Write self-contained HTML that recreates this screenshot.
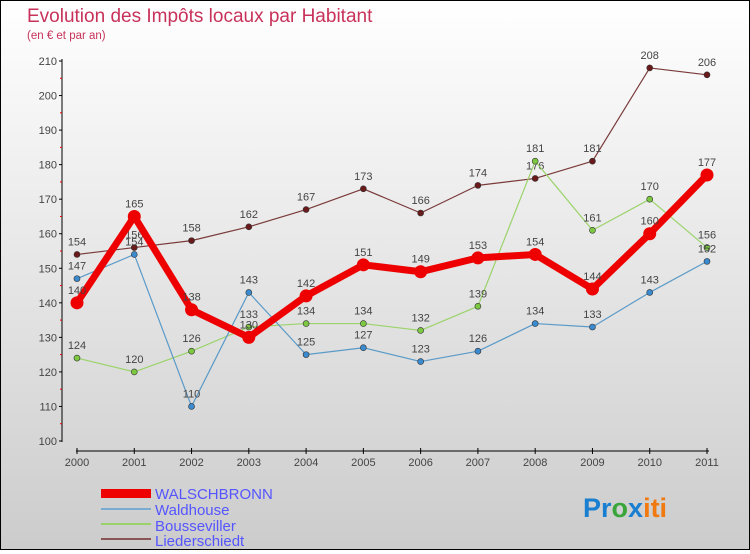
<!DOCTYPE html>
<html><head><meta charset="utf-8"><style>
body{margin:0;width:750px;height:550px;overflow:hidden;font-family:"Liberation Sans",sans-serif}
#c{position:absolute;left:0;top:0;width:748px;height:548px;border:1px solid #000;background:linear-gradient(#fff,#ccc)}
</style></head><body>
<div id="c">
<svg id="s" width="748" height="548" xmlns="http://www.w3.org/2000/svg" font-family="Liberation Sans, sans-serif">
<text x="26" y="21" font-size="19" fill="#c8325a">Evolution des Impôts locaux par Habitant</text>
<text x="26" y="38" font-size="11.5" fill="#c8325a">(en € et par an)</text>
<g id="axes"></g><g id="series"></g>
<g>
<rect x="100" y="488" width="50" height="9" fill="#e00"/>
<line x1="100" y1="508" x2="150" y2="508" stroke="#7aabd0" stroke-width="2"/>
<line x1="100" y1="523" x2="150" y2="523" stroke="#9bd36a" stroke-width="2"/>
<line x1="100" y1="538" x2="150" y2="538" stroke="#8a5555" stroke-width="2"/>
<text x="154" y="498" font-size="15" fill="#55f">WALSCHBRONN</text>
<text x="154" y="514" font-size="15" fill="#55f">Waldhouse</text>
<text x="154" y="530" font-size="15" fill="#55f">Bousseviller</text>
<text x="154" y="545" font-size="15" fill="#55f">Liederschiedt</text>
</g>
<text x="582" y="516" font-size="27" font-weight="bold"><tspan fill="#1a7fd0">Pr</tspan><tspan fill="#3aa53a">o</tspan><tspan fill="#1a7fd0">x</tspan><tspan fill="#f07a10">iti</tspan></text>
</svg></div>
<script>
const years=["2000","2001","2002","2003","2004","2005","2006","2007","2008","2009","2010","2011"];
const yTicks=[100,110,120,130,140,150,160,170,180,190,200,210];
const walschbronn=[140,165,138,130,142,151,149,153,154,144,160,177];
const waldhouse=[147,154,110,143,125,127,123,126,134,133,143,152];
const bousseviller=[124,120,126,133,134,134,132,139,181,161,170,156];
const liederschiedt=[154,156,158,162,167,173,166,174,176,181,208,206];
const NS="http://www.w3.org/2000/svg";
const X=i=>76+i*(630/11);
const Y=v=>440-(v-100)*(380/110);
function mk(tag,at,parent){const e=document.createElementNS(NS,tag);for(const k in at)e.setAttribute(k,at[k]);parent.appendChild(e);return e;}
const ax=document.getElementById('axes');
let l=mk('line',{x1:61,y1:58,x2:61,y2:441,stroke:'#000','stroke-width':1},ax);


l=mk('line',{x1:75,y1:450,x2:708,y2:450,stroke:'#000','stroke-width':1},ax);


yTicks.forEach(v=>{
 mk('line',{x1:58,y1:Y(v),x2:61,y2:Y(v),stroke:'#000'},ax);
 if(v<210)mk('line',{x1:59,y1:Y(v+5),x2:61,y2:Y(v+5),stroke:'#e00'},ax);
 const t=mk('text',{x:56,y:Y(v)+4,'font-size':11,fill:'#444','text-anchor':'end'},ax);
 t.textContent=v;
 
 
});
years.forEach((y,i)=>{
 mk('line',{x1:X(i),y1:447,x2:X(i),y2:453,stroke:'#000'},ax);
 const t=mk('text',{x:X(i),y:465,'font-size':11,fill:'#444','text-anchor':'middle'},ax);
 t.textContent=y;
 
 
});
const sg=document.getElementById('series');
function draw(data,name,color,w,r,dot){
 const g=mk('g',{},sg);
 
 
 mk('polyline',{points:data.map((v,i)=>X(i)+','+Y(v)).join(' '),fill:'none',stroke:color,'stroke-width':w,'stroke-linejoin':'round'},g);
 data.forEach((v,i)=>{
  const c=mk('circle',{cx:X(i),cy:Y(v),r:r,fill:dot,stroke:'#333','stroke-width':r>4?0:0.6},g);
  
  
  const t=mk('text',{x:X(i),y:Y(v)-9,'font-size':11,fill:'#444','text-anchor':'middle'},g);
  t.textContent=v;
  
  
 });
}
draw(liederschiedt,'liederschiedt','#7a3a3a',1.2,3,'#6a1a1a');
draw(bousseviller,'bousseviller','#9bd36a',1.2,3,'#7cc840');
draw(waldhouse,'waldhouse','#5a9ac8',1.2,3,'#3a8ad0');
draw(walschbronn,'walschbronn','#e00',7,6.5,'#e00');
</script>
</body></html>
